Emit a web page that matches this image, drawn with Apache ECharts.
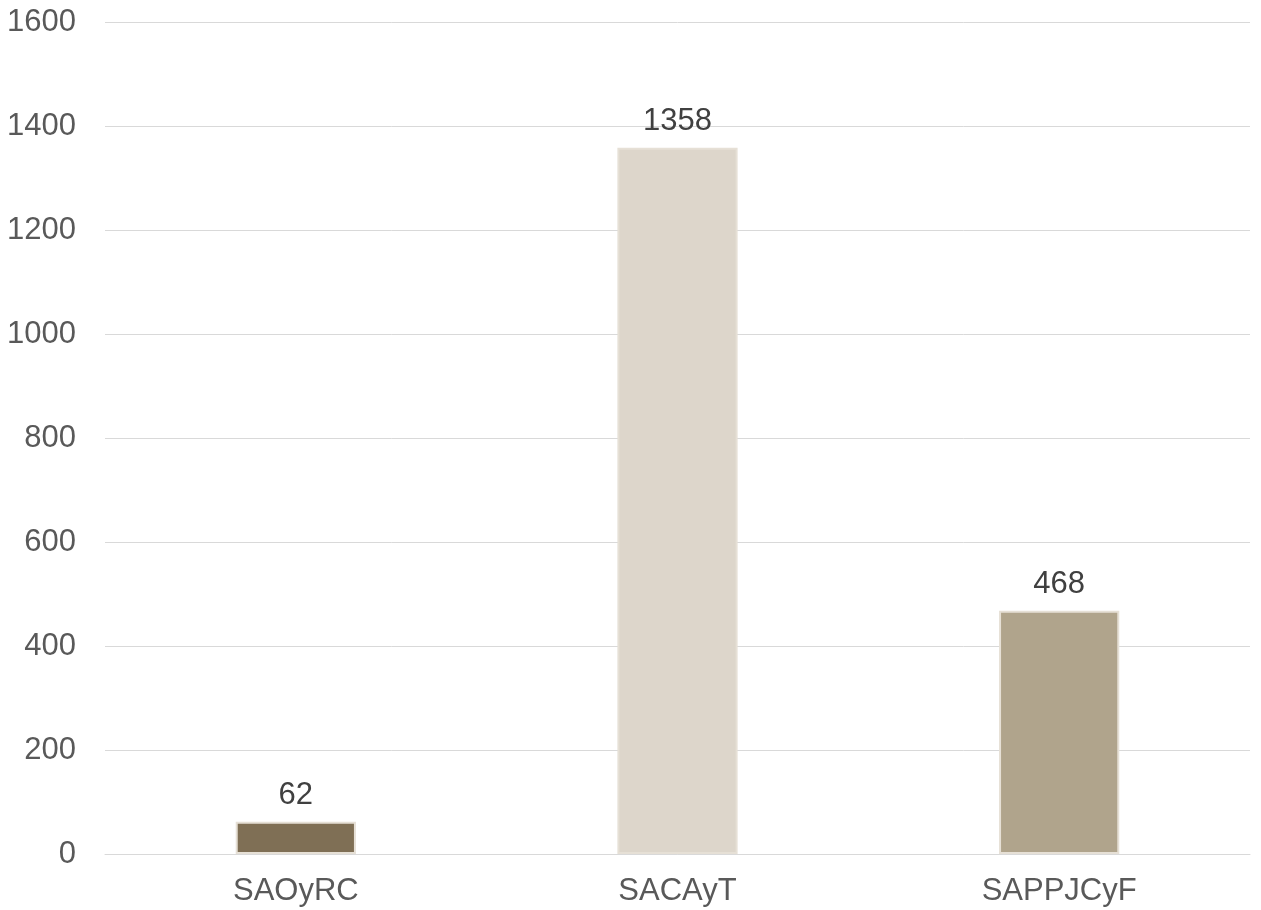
<!DOCTYPE html>
<html><head><meta charset="utf-8">
<script src="https://cdn.jsdelivr.net/npm/echarts@6/dist/echarts.min.js"></script>
<style>html,body{margin:0;padding:0;background:#fff}#c{width:1261px;height:910px}</style>
</head><body><div id="c"></div>
<script>
const categories = ['SAOyRC', 'SACAyT', 'SAPPJCyF'];
const values = [62, 1358, 468];
const barColors = ['#7f6f55', '#ddd6cb', '#b0a48c'];
const FONT = 'Liberation Sans, Arial, sans-serif';
const chart = echarts.init(document.getElementById('c'));
chart.setOption({
  animation: false,
  grid: { left: 105, right: 11, top: 22, bottom: 56, containLabel: false },
  xAxis: {
    type: 'category', data: categories,
    axisLine: { show: true, lineStyle: { color: '#d9d9d9', width: 1 } },
    axisTick: { show: false },
    axisLabel: { color: '#595959', fontSize: 31, fontFamily: FONT, margin: 22 }
  },
  yAxis: {
    type: 'value', min: 0, max: 1600, interval: 200,
    axisLine: { show: false }, axisTick: { show: false },
    splitLine: { lineStyle: { color: '#d9d9d9', width: 1 } },
    axisLabel: { color: '#595959', fontSize: 31, fontFamily: FONT, margin: 29, formatter: v => String(v) }
  },
  series: [{
    type: 'bar', barWidth: '31.5%',
    data: values.map((v, i) => ({ value: v, itemStyle: { color: barColors[i] } })),
    itemStyle: { borderColor: '#e6e0d6', borderWidth: 2 },
    label: { show: true, position: 'top', distance: 11, color: '#404040', fontSize: 31, fontFamily: FONT }
  }]
});
</script></body></html>
